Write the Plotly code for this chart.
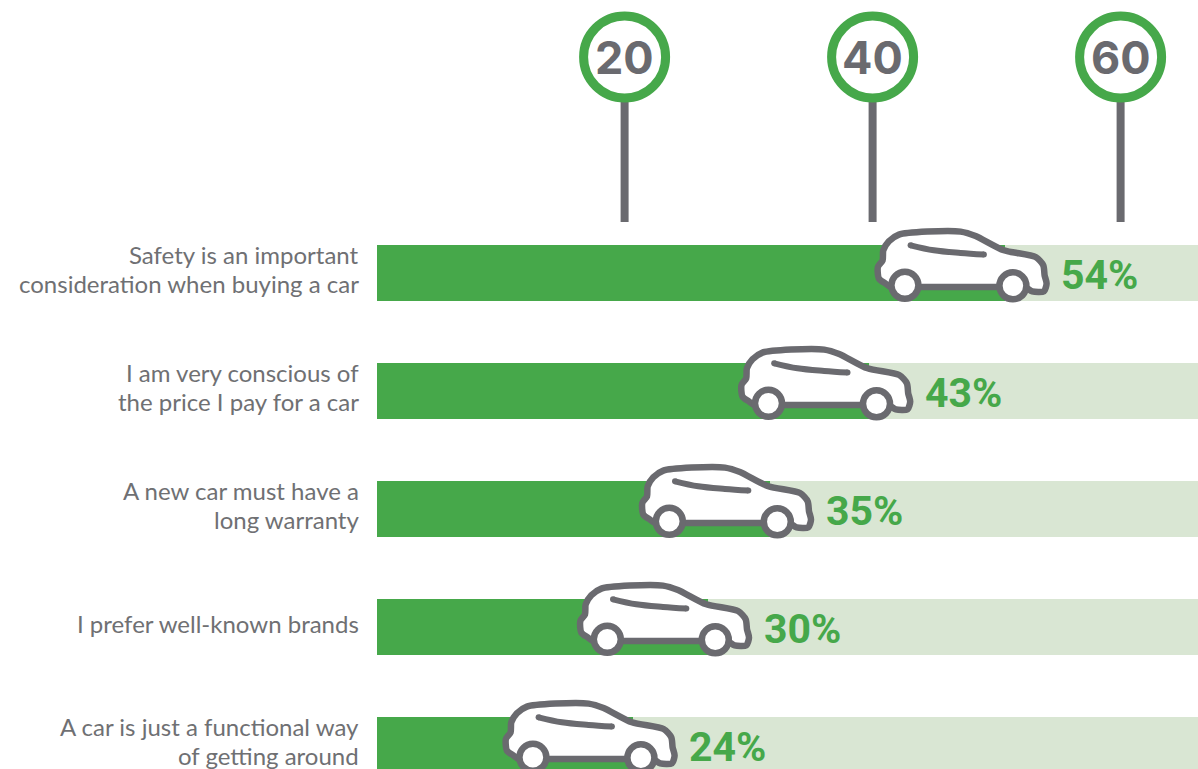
import numpy as np
import plotly.graph_objects as go

statement_lines = [
    ["Safety is an important", "consideration when buying a car"],
    ["I am very conscious of", "the price I pay for a car"],
    ["A new car must have a", "long warranty"],
    ["I prefer well-known brands"],
    ["A car is just a functional way", "of getting around"],
]
shares = [54, 43, 35, 30, 24]
full_scale = [100, 100, 100, 100, 100]
sign_ticks = [20, 40, 60]

GREEN = "#46a84a"
PALE = "#d9e6d3"
GREY = "#6a6a6f"
TEXT = "#6f7073"

W, H = 1198, 769
PX_PER_PCT = 12.4     # horizontal scale
PX_PER_ROW = 118.0    # vertical scale
ZERO_X, FIRST_ROW_Y = 376.6, 273.3
LINE_GAP = 29         # pixels between the two lines of a statement
NOSE_CLEARANCE = 3.3  # pale stretch of bar left visible beneath the bonnet, in percentage points

# Car glyph outline, in pixels relative to the tip of the bar / centre of the row
BODY_DX = [-160.6, -167.3, -168.3, -163.6, -162.9, -157.3, -147.3, -118.9, -85.6, -70.6,
           -42.3, -10.6, -2.9, -1.6, 0.4, -2.3, -14, -21, -30, -45, -110, -125.6, -140, -155.6, -160.6]
BODY_DY = [10.3, 5.3, -6.3, -13, -23, -32, -38.7, -41.7, -41.7, -37.3,
           -23, -16.3, -8, 2, 10.3, 18, 18, 14, 13.7, 13.7, 13.7, 13.7, 13.7, 13.7, 10.3]
WINDOW_DX = [-135.6, -112.3, -85.6, -62.3]
WINDOW_DY = [-28, -23, -20.3, -18.7]
WHEEL_DX = [-141.3, -33.3]
WHEEL_DY = [12, 12.5]

rows = list(range(len(statement_lines)))
fig = go.Figure()

fig.add_bar(y=rows, x=full_scale, orientation="h", width=0.475, marker_color=PALE, marker_line_width=0)
fig.add_bar(y=rows, x=shares, orientation="h", width=0.475, marker_color=GREEN, marker_line_width=0)
# Green stops under the front wheel; the car's nose carries the value the rest of the way
fig.add_bar(y=rows, x=[NOSE_CLEARANCE] * len(rows), base=[s - NOSE_CLEARANCE for s in shares],
            orientation="h", width=0.475, marker_color=PALE, marker_line_width=0)

# Speed-limit signs: pole first, then the ring and number on top
pole_top = (100 - FIRST_ROW_Y) / PX_PER_ROW
pole_bottom = (222 - FIRST_ROW_Y) / PX_PER_ROW
sign_y = (57 - FIRST_ROW_Y) / PX_PER_ROW
for t in sign_ticks:
    fig.add_scatter(x=[t, t], y=[pole_top, pole_bottom], mode="lines",
                    line=dict(color=GREY, width=8))
fig.add_scatter(
    x=sign_ticks, y=[sign_y] * len(sign_ticks), mode="markers",
    marker=dict(size=82, color="white", line=dict(color=GREEN, width=9)),
)
for t in sign_ticks:
    fig.add_annotation(
        x=t, y=sign_y, xref="x", yref="y", xanchor="center", yanchor="middle",
        text=str(t), showarrow=False,
        font=dict(family="Inter", size=45, color=GREY, weight=700),
    )

# One car per row, parked on the end of its bar
for row, share in zip(rows, shares):
    fig.add_scatter(
        x=share + np.array(BODY_DX) / PX_PER_PCT,
        y=row + np.array(BODY_DY) / PX_PER_ROW,
        mode="lines", fill="toself", fillcolor="white",
        line=dict(color=GREY, width=6.5, shape="spline", smoothing=0.7),
    )
    fig.add_scatter(
        x=share + np.array(WINDOW_DX) / PX_PER_PCT,
        y=row + np.array(WINDOW_DY) / PX_PER_ROW,
        mode="lines+markers",
        line=dict(color=GREY, width=6, shape="spline"),
        marker=dict(size=6, color=GREY, opacity=[1, 0, 0, 1]),
    )
    fig.add_scatter(
        x=share + np.array(WHEEL_DX) / PX_PER_PCT,
        y=row + np.array(WHEEL_DY) / PX_PER_ROW,
        mode="markers",
        marker=dict(size=27, color="white", line=dict(color=GREY, width=6.5)),
    )
    fig.add_annotation(
        x=share, y=row, xref="x", yref="y", xanchor="left", yanchor="middle",
        xshift=13, yshift=-2, text=f"{share}%", showarrow=False,
        font=dict(family="Roboto", size=41, color=GREEN, weight=700),
    )

# Statements are set line by line so the leading stays tight
for row, lines in zip(rows, statement_lines):
    for i, line in enumerate(lines):
        offset = (i - (len(lines) - 1) / 2) * LINE_GAP
        fig.add_annotation(
            x=-15.6 / PX_PER_PCT, y=row, xref="x", yref="y", xanchor="right", yanchor="middle",
            yshift=4 - offset, text=line, align="right", showarrow=False,
            font=dict(family="Lato", size=24, color=TEXT),
        )

fig.update_layout(
    width=W, height=H, margin=dict(l=0, r=0, t=0, b=0),
    paper_bgcolor="white", plot_bgcolor="white",
    barmode="overlay", bargap=0, showlegend=False, hovermode=False,
    xaxis=dict(range=[-ZERO_X / PX_PER_PCT, (W - ZERO_X) / PX_PER_PCT], visible=False, fixedrange=True),
    yaxis=dict(range=[(H - FIRST_ROW_Y) / PX_PER_ROW, -FIRST_ROW_Y / PX_PER_ROW], visible=False, fixedrange=True),
)

fig.write_html("out.html")
